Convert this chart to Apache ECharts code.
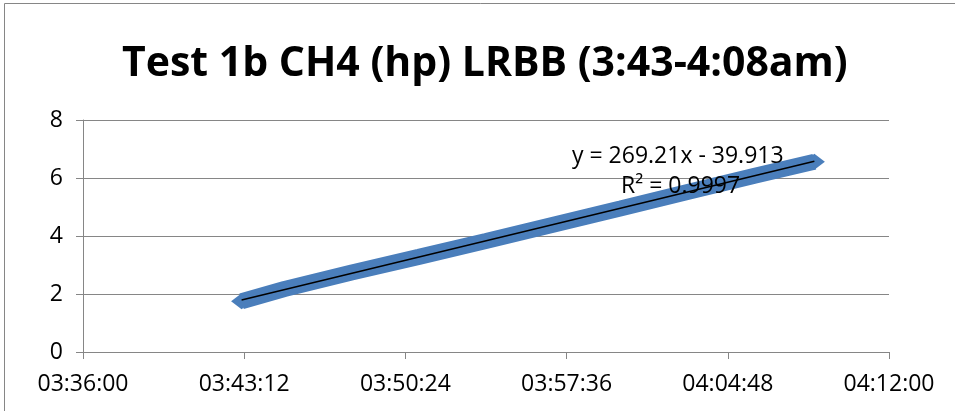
<!DOCTYPE html>
<html lang="en">
<head>
    <meta charset="UTF-8">
    <title>Test 1b CH4 (hp) LRBB</title>
    <script src="https://cdn.jsdelivr.net/npm/echarts@6/dist/echarts.min.js"></script>
    <style>
        html, body { margin: 0; padding: 0; background: #fff; }
        #chart { width: 955px; height: 411px; }
    </style>
</head>
<body>
    <div id="chart"></div>

    <script>
    // time in seconds since midnight, CH4 values
    var timeSec = [13385, 13500, 13680, 13860, 14040, 14220, 14400, 14580, 14760, 14920];
    var ch4 = [1.75, 2.17, 2.74, 3.28, 3.83, 4.39, 4.95, 5.52, 6.08, 6.56];

    // trendline end points
    var trendX = [13385, 14920];
    var trendY = [1.79, 6.58];
    var eqText = ['y = 269.21x - 39.913', 'R² = 0.9997'];

    var xMin = 12960, xMax = 15120, xStep = 432;
    var yTicks = [0, 2, 4, 6, 8];

    function hms(v) {
        var h = Math.floor(v / 3600), m = Math.floor((v % 3600) / 60), s = Math.round(v % 60);
        function p(n) { return (n < 10 ? '0' : '') + n; }
        return p(h) + ':' + p(m) + ':' + p(s);
    }

    var lineData = timeSec.map(function (t, i) {
        var item = { value: [t, ch4[i]] };
        if (i === 0 || i === timeSec.length - 1) {
            item.symbol = 'diamond';
            item.symbolSize = [21, 16];
        } else {
            item.symbol = 'none';
        }
        return item;
    });
    var trendData = trendX.map(function (t, i) { return [t, trendY[i]]; });

    var font = 'Open Sans';
    var myChart = echarts.init(document.getElementById('chart'));
    var option = {
        animation: false,
        title: {
            text: 'Test 1b CH4 (hp) LRBB (3:43-4:08am)',
            left: 117,
            top: 39,
            textStyle: { fontFamily: font, fontSize: 41, fontWeight: 'bold', color: '#000' }
        },
        graphic: [{
            type: 'rect',
            shape: { x: 4.5, y: 3.5, width: 1000, height: 500 },
            style: { fill: 'none', stroke: '#868686', lineWidth: 1 }
        }, {
            type: 'text',
            left: 572, top: 145, z: 100,
            style: { text: eqText[0], fontFamily: font, fontSize: 23, fill: '#000' }
        }, {
            type: 'text',
            left: 621, top: 175, z: 100,
            style: { text: eqText[1], fontFamily: font, fontSize: 23, fill: '#000' }
        }],
        grid: { left: 83, right: 66, top: 120, bottom: 59 },
        xAxis: {
            type: 'value',
            min: xMin, max: xMax, interval: xStep,
            axisLine: { lineStyle: { color: '#868686' } },
            axisTick: { show: true, length: 7, lineStyle: { color: '#868686' } },
            splitLine: { show: false },
            axisLabel: { formatter: hms, margin: 21, fontFamily: font, fontSize: 23, color: '#000' }
        },
        yAxis: {
            type: 'value',
            min: yTicks[0], max: yTicks[yTicks.length - 1], interval: 2,
            axisLine: { show: true, lineStyle: { color: '#868686' } },
            axisTick: { show: true, length: 7, lineStyle: { color: '#868686' } },
            splitLine: { lineStyle: { color: '#868686' } },
            axisLabel: { margin: 20, fontFamily: font, fontSize: 23, color: '#000' }
        },
        series: [{
            name: 'CH4',
            type: 'line',
            data: lineData,
            lineStyle: { color: '#4a7ebb', width: 16 },
            itemStyle: { color: '#4a7ebb' },
            z: 2
        }, {
            name: 'trend',
            type: 'line',
            data: trendData,
            symbol: 'none',
            lineStyle: { color: '#000', width: 1.5 },
            z: 3
        }]
    };
    myChart.setOption(option);
    </script>
</body>
</html>
